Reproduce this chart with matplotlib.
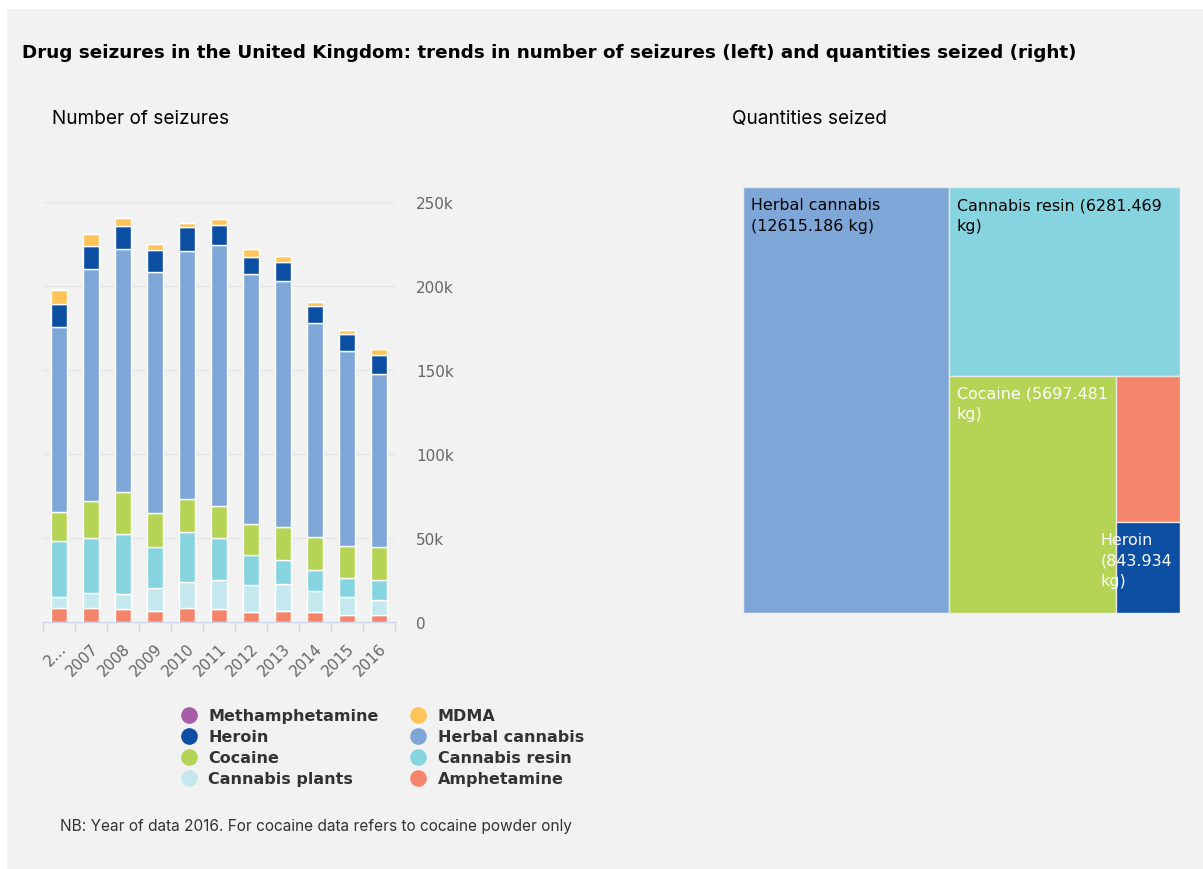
import textwrap
import matplotlib
matplotlib.use("Agg")
from matplotlib import pyplot as plt
from matplotlib.lines import Line2D
from matplotlib.patches import Rectangle
from matplotlib.ticker import FuncFormatter, FixedLocator

# number of seizures per year, by drug
years = ["2006", "2007", "2008", "2009", "2010", "2011", "2012", "2013", "2014", "2015", "2016"]
year_labels = ["2…", "2007", "2008", "2009", "2010", "2011", "2012", "2013", "2014", "2015", "2016"]

amphetamine = [8300, 8500, 7700, 6900, 8500, 7700, 6200, 6900, 6200, 4400, 4400]
cannabis_plants = [6500, 8900, 9100, 13300, 15300, 17700, 16100, 16100, 12500, 10700, 8900]
cannabis_resin = [33300, 32700, 35700, 24800, 29800, 24800, 17500, 14100, 12100, 11500, 12100]
cocaine = [17300, 22000, 24800, 20000, 19400, 19200, 18500, 19400, 19800, 18500, 19600]
herbal_cannabis = [110100, 137700, 144800, 143000, 147600, 154800, 148600, 146400, 127200, 116100, 102600]
heroin = [13900, 13900, 13300, 13300, 14100, 12100, 10300, 11500, 10300, 10300, 11500]
mdma = [7900, 6900, 5000, 3400, 2600, 3400, 4400, 3400, 2400, 2400, 3200]
methamphetamine = [100, 100, 100, 100, 100, 100, 100, 100, 100, 100, 100]

# quantities seized in 2016 (kg)
tree_names = ["Herbal cannabis", "Cannabis resin", "Cocaine", "Amphetamine", "Heroin"]
tree_kg = [12615.186, 6281.469, 5697.481, 1360.0, 843.934]

colors = {
    "Amphetamine": "#f4846a",
    "Cannabis plants": "#c5e8ef",
    "Cannabis resin": "#86d4e0",
    "Cocaine": "#b5d455",
    "Herbal cannabis": "#7ea7d8",
    "Heroin": "#0b4ea2",
    "MDMA": "#fec45a",
    "Methamphetamine": "#a65ea8",
}
tree_text_colors = ["#000000", "#000000", "#ffffff", "#ffffff", "#ffffff"]

stack = [
    ("Amphetamine", amphetamine),
    ("Cannabis plants", cannabis_plants),
    ("Cannabis resin", cannabis_resin),
    ("Cocaine", cocaine),
    ("Herbal cannabis", herbal_cannabis),
    ("Heroin", heroin),
    ("MDMA", mdma),
    ("Methamphetamine", methamphetamine),
]

W, H = 1203, 870
BG = "#f2f2f2"
fig = plt.figure(figsize=(W / 100, H / 100), dpi=100, facecolor="white")
fig.patches.append(Rectangle((7 / W, 0), 1, 1 - 10 / H, transform=fig.transFigure,
                             facecolor=BG, edgecolor="none", zorder=-10))

fig.text(22 / W, 1 - 58 / H, "Drug seizures in the United Kingdom: trends in number of seizures (left) and quantities seized (right)",
         family="DejaVu Sans", weight="bold", size=13.2, color="#000000", va="baseline")
fig.text(52 / W, 1 - 124 / H, "Number of seizures", family="Inter", size=13.7,
         color="#000000", va="baseline")
fig.text(732 / W, 1 - 124 / H, "Quantities seized", family="Inter", size=13.7,
         color="#000000", va="baseline")
fig.text(60 / W, 1 - 831 / H, "NB: Year of data 2016. For cocaine data refers to cocaine powder only",
         family="Inter", size=11.1, color="#333333", va="baseline")

# ---- stacked columns ----
ax = fig.add_axes([43 / W, 1 - 623.3 / H, 352 / W, 420.6 / H])
ax.set_facecolor("none")
x = list(range(len(years)))
bottom = [0] * len(years)
for name, vals in stack:
    ax.bar(x, vals, width=0.5, bottom=bottom, color=colors[name], edgecolor="white",
           linewidth=1, zorder=3)
    bottom = [b + v for b, v in zip(bottom, vals)]

ax.set_xlim(-0.5, len(years) - 0.5)
ax.set_ylim(0, 250000)
ax.yaxis.set_major_locator(FixedLocator([0, 50000, 100000, 150000, 200000, 250000]))
ax.yaxis.set_major_formatter(FuncFormatter(lambda v, p: "0" if v == 0 else f"{int(v / 1000)}k"))
ax.yaxis.tick_right()
ax.tick_params(axis="y", length=0, pad=15, labelsize=11, labelcolor="#666666")
for lab in ax.get_yticklabels():
    lab.set_family("DejaVu Sans")
    lab.set_verticalalignment("center_baseline")
ax.grid(axis="y", color="#e6e6e6", linewidth=1, zorder=0)

ax.set_xticks(x)
ax.set_xticklabels(year_labels, rotation=45, ha="right", rotation_mode="anchor",
                   fontsize=11, color="#666666")
ax.tick_params(axis="x", which="major", length=0, pad=13)
ax.set_xticks([i - 0.5 for i in range(len(years) + 1)], minor=True)
ax.tick_params(axis="x", which="minor", length=7.5, width=1, color="#ccd6eb", direction="out")
for side in ["top", "left", "right"]:
    ax.spines[side].set_visible(False)
ax.spines["bottom"].set_color("#ccd6eb")
ax.spines["bottom"].set_linewidth(1)

# legend: reversed stack order, read across rows
rev = [name for name, _ in stack][::-1]
order = rev[0::2] + rev[1::2]
handles = [Line2D([], [], linestyle="none", marker="o", markersize=12, markeredgewidth=0,
                  markerfacecolor=colors[n]) for n in order]
fig.legend(handles, order, ncol=2, loc="upper left", bbox_to_anchor=(181 / W, 1 - 709.5 / H),
           frameon=False, borderpad=0, borderaxespad=0, handlelength=1.0, handletextpad=0.7,
           columnspacing=2.0, labelspacing=0.37,
           prop={"family": "DejaVu Sans", "weight": "bold", "size": 11.5}, labelcolor="#333333")


# ---- treemap ----
def squarify(values, x0, y0, w, h):
    total = sum(values)
    areas = [v / total * w * h for v in values]
    rects = []
    vertical = True
    i = 0

    def worst(row, side):
        s = sum(row)
        return max(max(side * side * r / (s * s), s * s / (side * side * r)) for r in row)

    while i < len(areas):
        side = h if vertical else w
        row = [areas[i]]
        j = i + 1
        while j < len(areas) and worst(row + [areas[j]], side) <= worst(row, side):
            row.append(areas[j])
            j += 1
        s = sum(row)
        if vertical:
            cw = s / h
            cy = y0
            for r in row:
                rects.append((x0, cy, cw, r / cw))
                cy += r / cw
            x0 += cw
            w -= cw
        else:
            rh = s / w
            cx = x0
            for r in row:
                rects.append((cx, y0, r / rh, rh))
                cx += r / rh
            y0 += rh
            h -= rh
        vertical = not vertical
        i = j
    return rects


TW, TH = 436.7, 425.7
CHAR_W = 8.6
tax = fig.add_axes([743.3 / W, 1 - 614 / H, TW / W, TH / H])
tax.set_xlim(0, TW)
tax.set_ylim(TH, 0)
tax.axis("off")
for (rx, ry, rw, rh), name, kg, tc in zip(squarify(tree_kg, 0, 0, TW, TH), tree_names, tree_kg, tree_text_colors):
    tax.add_patch(Rectangle((rx, ry), rw, rh, facecolor=colors[name], edgecolor="#e6e6e6", linewidth=1))
    label = f"{name} ({kg:.3f} kg)"
    chars = max(int((rw - 16) / CHAR_W), 1)
    lines = textwrap.wrap(label, width=chars, break_long_words=False)
    longest = max(len(l) for l in lines)
    if longest * CHAR_W > rw + 20:
        continue
    text = "\n".join(lines)
    style = dict(va="top", color=tc, fontsize=11.4, family="DejaVu Sans", linespacing=1.45)
    if longest * CHAR_W > rw - 16:
        # too wide for the cell: keep it inside the plot area
        tax.text(TW - 8, ry + 10, text, ha="right", multialignment="left", **style)
    else:
        tax.text(rx + 8, ry + 10, text, ha="left", **style)

fig.savefig("out.png", dpi=100, facecolor="white")
